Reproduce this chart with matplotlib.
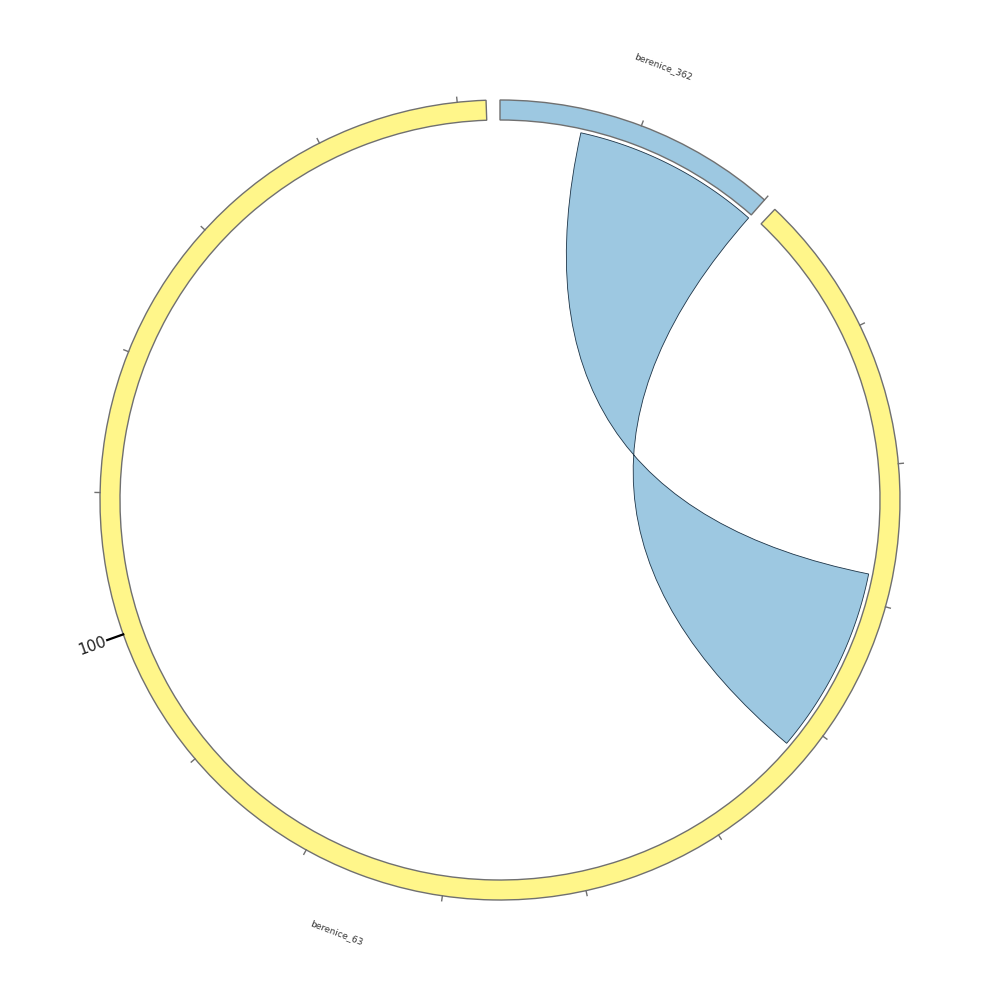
import numpy as np
import matplotlib
matplotlib.use("Agg")
import matplotlib.pyplot as plt
from matplotlib.patches import Wedge, PathPatch
from matplotlib.path import Path

# data
seg_names = ["berenice_362", "berenice_63"]
seg_lengths = [20, 152]
seg_colors = ["#9dc8e1", "#fff68a"]

chord_src = ("berenice_362", 6, 20)
chord_dst = ("berenice_63", 28, 42)

tick_step = 10
major_tick_seg = "berenice_63"
major_tick_val = 100

# layout (pixel-ish units, circle centred at 0)
R_OUT = 400
R_IN = 380
R_CHORD = 376
R_LABEL = 463
GAP = 2.0  # degrees between segments

deg_per_unit = (360 - GAP * len(seg_lengths)) / sum(seg_lengths)
seg_start = {}
a = 0.0
for name, ln in zip(seg_names, seg_lengths):
    seg_start[name] = a
    a += ln * deg_per_unit + GAP


def ang(seg, pos):
    # clockwise from top, degrees
    return seg_start[seg] + pos * deg_per_unit


def xy(theta, r):
    t = np.radians(theta)
    return r * np.sin(t), r * np.cos(t)


fig = plt.figure(figsize=(10, 10), dpi=100)
ax = fig.add_axes([0, 0, 1, 1])
ax.set_xlim(-500, 500)
ax.set_ylim(-500, 500)
ax.set_aspect("equal")
ax.axis("off")

# segments
for name, ln, col in zip(seg_names, seg_lengths, seg_colors):
    t1, t2 = ang(name, 0), ang(name, ln)
    w = Wedge((0, 0), R_OUT, 90 - t2, 90 - t1, width=R_OUT - R_IN,
              facecolor=col, edgecolor="#707070", lw=1.0)
    ax.add_patch(w)
    # minor ticks
    for v in range(tick_step, ln + 1, tick_step):
        th = ang(name, v)
        x0, y0 = xy(th, R_OUT)
        x1, y1 = xy(th, R_OUT + 5)
        ax.plot([x0, x1], [y0, y1], color="#707070", lw=1.0)
    # label
    mid = ang(name, ln / 2)
    lx, ly = xy(mid, R_LABEL)
    rot = -mid
    while rot < -90:
        rot += 180
    while rot > 90:
        rot -= 180
    ax.text(lx, ly, name, fontsize=6.5, color="#333333", rotation=rot,
            ha="center", va="center", rotation_mode="anchor")

# major tick
th = ang(major_tick_seg, major_tick_val)
x0, y0 = xy(th, R_OUT)
x1, y1 = xy(th, R_OUT + 17)
ax.plot([x0, x1], [y0, y1], color="black", lw=1.6)
tx, ty = xy(th, R_OUT + 33)
rot = 90 - th
while rot < -90:
    rot += 180
while rot > 90:
    rot -= 180
ax.text(tx, ty, str(major_tick_val), fontsize=11, color="#222222",
        rotation=rot, ha="center", va="center", rotation_mode="anchor")

# chord ribbon
s_name, s0, s1 = chord_src
d_name, d0, d1 = chord_dst
verts, codes = [], []
verts.append(xy(ang(s_name, s0), R_CHORD)); codes.append(Path.MOVETO)
verts.append((0, 0)); codes.append(Path.CURVE3)
verts.append(xy(ang(d_name, d0), R_CHORD)); codes.append(Path.CURVE3)
for th in np.linspace(ang(d_name, d0), ang(d_name, d1), 40)[1:]:
    verts.append(xy(th, R_CHORD)); codes.append(Path.LINETO)
verts.append((0, 0)); codes.append(Path.CURVE3)
verts.append(xy(ang(s_name, s1), R_CHORD)); codes.append(Path.CURVE3)
for th in np.linspace(ang(s_name, s1), ang(s_name, s0), 40)[1:]:
    verts.append(xy(th, R_CHORD)); codes.append(Path.LINETO)
verts.append(verts[0]); codes.append(Path.CLOSEPOLY)
ax.add_patch(PathPatch(Path(verts, codes), facecolor=seg_colors[0],
                       edgecolor="#1d3447", lw=0.6))

fig.savefig("out.png", dpi=100)
